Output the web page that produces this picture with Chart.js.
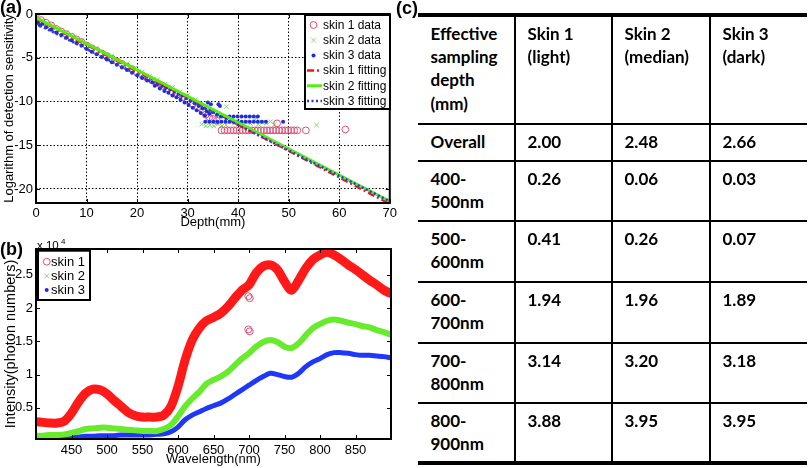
<!DOCTYPE html>
<html>
<head>
<meta charset="utf-8">
<script src="https://cdn.jsdelivr.net/npm/chart.js@4.4.0/dist/chart.umd.min.js"></script>
<style>
  html, body { margin: 0; padding: 0; background: #fff; }
  #page { position: relative; width: 810px; height: 468px; overflow: hidden; font-family: 'Liberation Sans', Arial, sans-serif; }
  #chartA { position: absolute; left: 0; top: 0; }
  #chartB { position: absolute; left: 0; top: 232px; }
  .panel { position: absolute; font-weight: bold; font-size: 18px; line-height: 18px; }
  .tline { position: absolute; background: #000; }
  .cell { position: absolute; font-family: Lato, 'Liberation Sans', sans-serif; font-weight: 700; font-size: 17px; line-height: 23.3px; white-space: nowrap; color: #000; }
</style>
</head>
<body>
<div id="page">
  <canvas id="chartA" width="400" height="232"></canvas>
  <canvas id="chartB" width="400" height="236"></canvas>
  <div class="panel" style="left:0;top:-2px">(a)</div>
  <div class="panel" style="left:0;top:240px">(b)</div>
  <div class="panel" style="left:396px;top:-1px">(c)</div>
  <div id="table"></div>
</div>
<script>
// ---------- (a) detection sensitivity vs depth ----------
const skin1Depth = [0, 1, 2, 3, 4, 5, 6, 7, 8, 9, 10, 11, 12, 13, 14, 15, 16, 17, 18, 19, 20, 21, 22, 23, 24, 25, 26, 27, 28, 29, 30, 31, 32, 33, 33.6, 34.3, 35.0, 35.8,
  36.7, 37.3, 37.9, 38.5, 39.1, 39.7, 40.3, 40.9, 41.5, 42.1, 42.7, 43.3, 43.9, 44.5, 45.1, 45.7, 46.3, 46.9, 47.5, 48.1, 48.7, 49.3, 49.9, 50.5, 51.1, 51.7, 53.4, 61.2, 47.7];
const skin1Log = [0, -0.7, -1.0, -1.3, -1.7, -2.0, -2.3, -2.6, -2.9, -3.2, -3.6, -3.9, -4.2, -4.5, -4.8, -5.1, -5.4, -5.7, -6.0, -6.3, -6.7, -7.0, -7.3, -7.6, -7.9, -8.2, -8.5, -8.9, -9.2, -9.5, -9.9, -10.3, -10.7, -11.1, -11.5, -11.8, -12.0, -12.2,
  -13.3, -13.3, -13.3, -13.3, -13.3, -13.3, -13.3, -13.3, -13.3, -13.3, -13.3, -13.3, -13.3, -13.3, -13.3, -13.3, -13.3, -13.3, -13.3, -13.3, -13.3, -13.3, -13.3, -13.3, -13.3, -13.3, -13.3, -13.2, -12.5];

const skin2Depth = [0, 1.5, 3, 4.5, 6, 7.5, 9, 10.5, 12, 13.5, 15, 16.5, 18, 19.5, 21, 22.5, 24, 25.5, 27, 28.5, 30, 31.5, 32.5, 33.5,
  32.8, 33.6, 34.4, 35.2, 36.0, 36.8, 37.6, 38.4, 39.2, 40.0, 40.8, 41.6, 42.4, 43.2, 44.0, 44.8, 45.6, 46.4, 47.2, 37.7, 43.6, 34.5, 55.5];
const skin2Log = [-0.3, -0.8, -1.2, -1.7, -2.1, -2.6, -3.0, -3.5, -3.9, -4.4, -4.8, -5.3, -5.7, -6.2, -6.6, -7.1, -7.5, -8.0, -8.4, -8.9, -9.3, -9.8, -10.3, -11.0,
  -12.6, -12.8, -12.7, -12.8, -12.6, -12.8, -12.7, -12.3, -12.5, -12.2, -12.6, -12.3, -12.5, -12.2, -12.6, -12.4, -12.5, -12.3, -12.6, -10.6, -11.9, -11.5, -12.7];

const skin3Depth = [0, 0.4, 0.8, 1.3, 2, 3, 4, 5, 6, 7, 8, 9, 10, 11, 12, 13, 14, 15, 16, 17, 18, 19, 20, 21, 22, 23,
  23.5, 24, 24.5, 25, 25.4, 25.8, 26.2, 26.6, 27, 27.4, 27.8, 28.2, 28.6, 29, 29.4, 29.8, 30.2, 30.6, 31, 31.4, 31.8, 32.2, 32.6, 33, 33.4, 33.8, 34.3, 35, 35.8, 36.1, 36.4, 36.6, 34.0, 34.6,
  37.5, 38.3, 39.1, 39.9, 40.7, 41.5, 42.3, 43.1, 43.9,
  33.5, 34.3, 35.1, 35.9, 36.7, 37.5, 38.3, 39.1, 39.9, 40.7, 41.5, 42.3, 43.1, 43.9, 44.7, 45.5, 48.9];
const skin3Log = [-0.5, -1.0, -1.3, -1.1, -1.5, -1.8, -2.1, -2.4, -2.7, -3.0, -3.3, -3.6, -4.0, -4.3, -4.6, -4.9, -5.2, -5.5, -5.8, -6.1, -6.4, -6.7, -7.0, -7.3, -7.6, -7.8,
  -8.2, -8.0, -8.5, -8.2, -8.8, -8.4, -9.0, -8.6, -9.3, -8.8, -9.5, -9.1, -9.8, -9.3, -10.1, -9.6, -10.4, -9.9, -10.7, -10.2, -11.0, -10.5, -11.3, -10.8, -11.6, -11.1, -11.4, -11.2, -11.5, -10.3, -10.5, -11.7, -10.1, -10.3,
  -11.7, -11.7, -11.7, -11.7, -11.7, -11.7, -11.7, -11.7, -11.7,
  -12.3, -12.3, -12.3, -12.3, -12.3, -12.3, -12.3, -12.3, -12.3, -12.3, -12.3, -12.3, -12.3, -12.3, -12.3, -12.3, -12.3];

const fitDepth = [0, 70];
const fit1Log = [-0.5, -21.7];
const fit2Log = [-0.4, -21.4];
const fit3Log = [-1.1, -21.4];

// ---------- (b) spectra, intensity in units of 10^4 photons ----------
const wavelength = [400, 410, 420, 430, 440, 450, 460, 470, 480, 490, 500, 510, 520, 530, 540, 550, 560, 570, 580, 590,
  600, 610, 620, 630, 640, 650, 660, 670, 680, 690, 700, 710, 720, 730, 740, 750, 760, 770, 780, 790,
  800, 810, 820, 830, 840, 850, 860, 870, 880, 890, 900];
const skin1Intensity = [0.29, 0.28, 0.27, 0.27, 0.30, 0.42, 0.59, 0.72, 0.78, 0.77, 0.71, 0.61, 0.52, 0.43, 0.38, 0.36, 0.36, 0.36, 0.39, 0.52,
  0.82, 1.22, 1.52, 1.70, 1.81, 1.86, 1.92, 2.02, 2.15, 2.27, 2.35, 2.53, 2.63, 2.65, 2.58, 2.40, 2.27, 2.42, 2.60, 2.73,
  2.80, 2.84, 2.80, 2.73, 2.65, 2.58, 2.50, 2.42, 2.35, 2.27, 2.22];
const skin2Intensity = [0.08, 0.08, 0.09, 0.09, 0.10, 0.12, 0.15, 0.18, 0.19, 0.20, 0.20, 0.19, 0.18, 0.17, 0.16, 0.15, 0.15, 0.15, 0.18, 0.24,
  0.37, 0.52, 0.64, 0.74, 0.86, 0.92, 0.97, 1.04, 1.14, 1.24, 1.32, 1.42, 1.49, 1.52, 1.49, 1.42, 1.40, 1.47, 1.59, 1.70,
  1.76, 1.81, 1.83, 1.81, 1.78, 1.76, 1.73, 1.71, 1.67, 1.64, 1.60];
const skin3Intensity = [0.03, 0.03, 0.04, 0.04, 0.05, 0.05, 0.06, 0.07, 0.07, 0.08, 0.08, 0.08, 0.09, 0.09, 0.09, 0.09, 0.09, 0.10, 0.11, 0.14,
  0.21, 0.32, 0.39, 0.44, 0.49, 0.53, 0.57, 0.63, 0.70, 0.77, 0.84, 0.91, 0.97, 1.02, 1.00, 0.97, 0.96, 1.02, 1.12, 1.19,
  1.24, 1.30, 1.33, 1.33, 1.32, 1.30, 1.29, 1.29, 1.28, 1.27, 1.25];
const skin1OutlierWl = [699, 701, 699, 701];
const skin1OutlierIntensity = [2.18, 2.15, 1.68, 1.65];

// ---------- (c) table ----------
const tableHead = [['Effective', 'sampling', 'depth', '(mm)'], ['Skin 1', '(light)'], ['Skin 2', '(median)'], ['Skin 3', '(dark)']];
const rangeLabels = [['Overall'], ['400-', '500nm'], ['500-', '600nm'], ['600-', '700nm'], ['700-', '800nm'], ['800-', '900nm']];
const skin1Sampling = ['2.00', '0.26', '0.41', '1.94', '3.14', '3.88'];
const skin2Sampling = ['2.48', '0.06', '0.26', '1.96', '3.20', '3.95'];
const skin3Sampling = ['2.66', '0.03', '0.07', '1.89', '3.18', '3.95'];

const pts = (xs, ys) => xs.map((x, i) => ({ x: x, y: ys[i] }));
const axisFont = { family: "'Liberation Sans', Arial, sans-serif", size: 13 };

// box round the plot with inward tick marks
const framePlugin = {
  id: 'frame',
  afterDatasetsDraw(chart) {
    const { ctx, chartArea: a, scales } = chart;
    ctx.save();
    ctx.strokeStyle = '#000';
    ctx.lineWidth = 1;
    ctx.setLineDash([]);
    scales.x.ticks.forEach(t => {
      const px = Math.round(scales.x.getPixelForValue(t.value)) + 0.5;
      ctx.beginPath();
      ctx.moveTo(px, a.bottom); ctx.lineTo(px, a.bottom - 4);
      ctx.moveTo(px, a.top); ctx.lineTo(px, a.top + 4);
      ctx.stroke();
    });
    scales.y.ticks.forEach(t => {
      const py = Math.round(scales.y.getPixelForValue(t.value)) + 0.5;
      ctx.beginPath();
      ctx.moveTo(a.left, py); ctx.lineTo(a.left + 4, py);
      ctx.moveTo(a.right, py); ctx.lineTo(a.right - 4, py);
      ctx.stroke();
    });
    ctx.lineWidth = 2;
    ctx.strokeRect(a.left, a.top, a.right - a.left, a.bottom - a.top);
    ctx.restore();
  }
};

function drawMarker(ctx, m, x, y) {
  ctx.save();
  ctx.setLineDash([]);
  ctx.lineWidth = m.borderWidth;
  ctx.strokeStyle = m.borderColor;
  ctx.fillStyle = m.backgroundColor;
  ctx.beginPath();
  if (m.pointStyle === 'crossRot') {
    const r = m.radius * 0.7071;
    ctx.moveTo(x - r, y - r); ctx.lineTo(x + r, y + r);
    ctx.moveTo(x - r, y + r); ctx.lineTo(x + r, y - r);
    ctx.stroke();
  } else {
    ctx.arc(x, y, m.radius, 0, Math.PI * 2);
    ctx.fill();
    if (m.borderWidth > 0) ctx.stroke();
  }
  ctx.restore();
}

// MATLAB style legend box inside the plot
const boxLegend = {
  id: 'boxLegend',
  afterDraw(chart, args, o) {
    if (!o.items) return;
    const ctx = chart.ctx;
    ctx.save();
    ctx.fillStyle = '#fff';
    ctx.fillRect(o.x, o.y, o.w, o.h);
    ctx.lineWidth = 2;
    ctx.strokeStyle = '#000';
    ctx.strokeRect(o.x, o.y, o.w, o.h);
    ctx.font = o.font;
    ctx.textBaseline = 'middle';
    o.items.forEach((idx, i) => {
      const ds = chart.data.datasets[idx];
      const cy = o.y + o.first + i * o.step;
      if (ds.legendLine) {
        ctx.save();
        ctx.strokeStyle = ds.borderColor;
        ctx.lineWidth = ds.borderWidth;
        ctx.setLineDash(ds.borderDash || []);
        ctx.beginPath();
        ctx.moveTo(o.x + o.lineFrom, cy);
        ctx.lineTo(o.x + o.lineTo, cy);
        ctx.stroke();
        ctx.restore();
      } else {
        drawMarker(ctx, ds.legendMarker, o.x + o.markX, cy);
      }
      ctx.fillStyle = '#000';
      ctx.fillText(ds.label, o.x + o.textX, cy + 0.5);
    });
    if (o.exponent) {
      ctx.font = "11.5px 'Liberation Sans', Arial, sans-serif";
      ctx.textBaseline = 'alphabetic';
      const a = chart.chartArea;
      ctx.fillText('x 10', a.left + 1, a.top - 0.5);
      ctx.font = "8px 'Liberation Sans', Arial, sans-serif";
      ctx.fillText('4', a.left + 25, a.top - 5.5);
    }
    ctx.restore();
  }
};

const mk1 = { pointStyle: 'circle', radius: 3.4, borderWidth: 1, borderColor: 'rgb(222, 80, 115)', backgroundColor: 'rgba(0,0,0,0)' };
const mk2 = { pointStyle: 'crossRot', radius: 3.2, borderWidth: 1, borderColor: 'rgb(130, 220, 100)', backgroundColor: 'rgba(0,0,0,0)' };
const mk3 = { pointStyle: 'circle', radius: 2, borderWidth: 0, borderColor: 'rgb(30, 45, 225)', backgroundColor: 'rgb(30, 45, 225)' };

function pointSet(label, data, m, order) {
  return {
    label: label, data: data, order: order, legendMarker: m,
    pointStyle: m.pointStyle, pointRadius: m.radius, pointBorderWidth: m.borderWidth,
    pointBorderColor: m.borderColor, pointBackgroundColor: m.backgroundColor,
    borderColor: m.borderColor, backgroundColor: m.backgroundColor, showLine: false
  };
}

new Chart(document.getElementById('chartA'), {
  type: 'scatter',
  data: {
    datasets: [
      pointSet('skin 1 data', pts(skin1Depth, skin1Log), mk1, 4),
      pointSet('skin 2 data', pts(skin2Depth, skin2Log), mk2, 5),
      pointSet('skin 3 data', pts(skin3Depth, skin3Log), mk3, 3),
      { label: 'skin 1 fitting', data: pts(fitDepth, fit1Log), showLine: true, pointRadius: 0, legendLine: true,
        borderColor: '#ff1010', borderWidth: 2.5, borderDash: [7, 3, 2, 3], order: 2 },
      { label: 'skin 2 fitting', data: pts(fitDepth, fit2Log), showLine: true, pointRadius: 0, legendLine: true,
        borderColor: '#55ee11', borderWidth: 3, order: 1 },
      { label: 'skin 3 fitting', data: pts(fitDepth, fit3Log), showLine: true, pointRadius: 0, legendLine: true,
        borderColor: '#2a3ad0', borderWidth: 2.5, borderDash: [2, 2.5], order: 0 }
    ]
  },
  options: {
    responsive: false, animation: false, events: [],
    layout: { padding: { left: 0, top: 14, right: 10, bottom: 0 } },
    plugins: {
      legend: { display: false }, tooltip: { enabled: false },
      boxLegend: { items: [0, 1, 2, 3, 4, 5], x: 305, y: 15, w: 85, h: 94, first: 10, step: 15.2,
        markX: 8.5, lineFrom: 2, lineTo: 17, textX: 18, font: "12px 'Liberation Sans', Arial, sans-serif" }
    },
    scales: {
      x: {
        type: 'linear', min: 0, max: 70,
        ticks: { stepSize: 10, color: '#000', font: axisFont, padding: 3, maxRotation: 0 },
        grid: { color: '#000', lineWidth: 1, drawTicks: false },
        border: { display: false, dash: [1.5, 2] },
        title: { display: true, text: 'Depth(mm)', color: '#000', font: axisFont, padding: { top: 0, bottom: 2 } },
        afterFit: s => { s.height = 29; }
      },
      y: {
        min: -21.6, max: 0,
        ticks: { stepSize: 5, includeBounds: false, color: '#000', font: axisFont, padding: 3 },
        grid: { color: '#000', lineWidth: 1, drawTicks: false },
        border: { display: false, dash: [1.5, 2] },
        title: { display: true, text: 'Logarithm of detection sensitivity', color: '#000', font: axisFont, padding: { top: 2, bottom: 0 } },
        afterFit: s => { s.width = 36; }
      }
    }
  },
  plugins: [framePlugin, boxLegend]
});

function bandSet(label, data, color, width, m) {
  return { label: label, data: data, showLine: true, pointRadius: 0, borderColor: color, borderWidth: width,
    tension: 0.3, borderJoinStyle: 'round', borderCapStyle: 'round', legendMarker: m };
}

new Chart(document.getElementById('chartB'), {
  type: 'scatter',
  data: {
    datasets: [
      bandSet('skin 1', pts(wavelength, skin1Intensity), 'rgb(255, 25, 25)', 9, mk1),
      bandSet('skin 2', pts(wavelength, skin2Intensity), 'rgb(105, 235, 45)', 6, mk2),
      bandSet('skin 3', pts(wavelength, skin3Intensity), 'rgb(30, 55, 250)', 5, mk3),
      Object.assign(pointSet('skin 1', pts(skin1OutlierWl, skin1OutlierIntensity), mk1, 0), { pointRadius: 3.5 })
    ]
  },
  options: {
    responsive: false, animation: false, events: [],
    layout: { padding: { left: 0, top: 17, right: 9, bottom: 0 } },
    plugins: {
      legend: { display: false }, tooltip: { enabled: false },
      boxLegend: { items: [0, 1, 2], x: 38, y: 18.7, w: 52, h: 49.3, first: 11, step: 14.2,
        markX: 8.7, textX: 13, font: "13px 'Liberation Sans', Arial, sans-serif", exponent: true }
    },
    scales: {
      x: {
        type: 'linear', min: 400, max: 900,
        ticks: { stepSize: 50, color: '#000', font: axisFont, padding: 4, maxRotation: 0, autoSkip: false,
          callback: v => (v === 400 || v === 900) ? '' : v },
        grid: { display: false, drawTicks: false },
        border: { display: false },
        title: { display: true, text: 'Wavelength(nm)', color: '#000', font: axisFont, padding: { top: 0, bottom: 1 } },
        afterFit: s => { s.height = 29; }
      },
      y: {
        min: 0.03, max: 2.89,
        ticks: { stepSize: 0.5, includeBounds: false, color: '#000', font: axisFont, padding: 3, autoSkip: false,
          callback: v => String(Math.round(v * 10) / 10) },
        grid: { display: false, drawTicks: false },
        border: { display: false },
        title: { display: true, text: 'Intensity(photon numbers)', color: '#000',
          font: { family: axisFont.family, size: 14.5 }, padding: { top: 2, bottom: 0 } },
        afterFit: s => { s.width = 36; }
      }
    }
  },
  plugins: [framePlugin, boxLegend]
});

// ---------- table (c) ----------
const tableEl = document.getElementById('table');
const colEdges = [418, 515, 612, 710, 807];
const rowLines = [15, 124, 161, 221, 282, 343, 403, 463];

function box(cls, x, y, w, h) {
  const d = document.createElement('div');
  d.className = cls;
  d.style.left = x + 'px'; d.style.top = y + 'px';
  if (w != null) d.style.width = w + 'px';
  if (h != null) d.style.height = h + 'px';
  tableEl.appendChild(d);
  return d;
}
box('tline', colEdges[0], rowLines[0] - 2, colEdges[4] - colEdges[0], 4);
box('tline', colEdges[0], rowLines[7] - 2, colEdges[4] - colEdges[0], 4);
rowLines.slice(1, 7).forEach(y => box('tline', colEdges[0], y - 1, colEdges[4] - colEdges[0], 2));
colEdges.slice(1, 4).forEach(x => box('tline', x - 1, rowLines[0], 2, rowLines[7] - rowLines[0]));

function cell(lines, col, lineY, off) {
  const d = box('cell', colEdges[col] + 12.5, lineY + off);
  d.innerHTML = lines.join('<br>');
}
tableHead.forEach((lines, c) => cell(lines, c, rowLines[0], 6.8));
rangeLabels.forEach((lines, r) => {
  cell(lines, 0, rowLines[r + 1], 6);
  cell([skin1Sampling[r]], 1, rowLines[r + 1], 6);
  cell([skin2Sampling[r]], 2, rowLines[r + 1], 6);
  cell([skin3Sampling[r]], 3, rowLines[r + 1], 6);
});
</script>
</body>
</html>
